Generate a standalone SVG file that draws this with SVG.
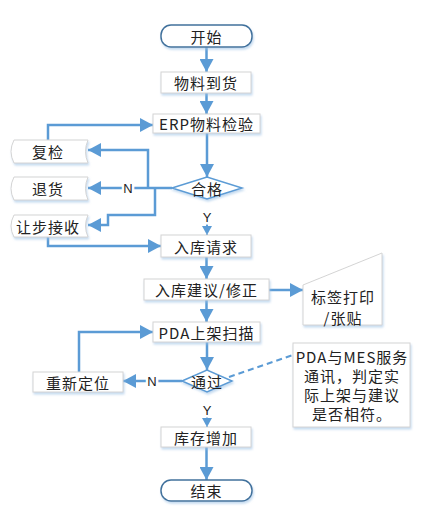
<svg xmlns="http://www.w3.org/2000/svg" width="422" height="516" viewBox="0 0 422 516">
<defs>
<style>
.box{fill:#fff;stroke:#d4d4d4;stroke-width:1;filter:url(#sh)}
.term{fill:#fff;stroke:#41719c;stroke-width:1.5;filter:url(#sh)}
.dia{fill:#fff;stroke:#5b9bd5;stroke-width:1.5;filter:url(#sh)}
.t{font-family:"Noto Sans CJK SC","Liberation Sans",sans-serif;font-size:15px;fill:#222;text-anchor:middle;dominant-baseline:central;letter-spacing:1px}
.lbl{font-family:"Liberation Sans",sans-serif;font-size:13px;fill:#222;text-anchor:middle;dominant-baseline:central;paint-order:stroke;stroke:#fff;stroke-width:5px}
.c{fill:none;stroke:#5b9bd5;stroke-width:2.5}
.a{marker-end:url(#ah)}
.d{fill:none;stroke:#5b9bd5;stroke-width:2;stroke-dasharray:6 4}
</style>
<filter id="sh" x="-10%" y="-20%" width="120%" height="150%">
<feDropShadow dx="1" dy="2" stdDeviation="1.2" flood-color="#9dc3e6" flood-opacity="0.6"/>
</filter>
<marker id="ah" markerUnits="userSpaceOnUse" markerWidth="14" markerHeight="14" viewBox="0 0 14 14" refX="13" refY="7" orient="auto">
<path d="M0,0 L13,7 L0,14 Z" fill="#5b9bd5"/>
</marker>
<marker id="ahs" markerUnits="userSpaceOnUse" markerWidth="10" markerHeight="10" viewBox="0 0 10 10" refX="9" refY="5" orient="auto">
<path d="M0,0 L9,5 L0,10 Z" fill="#5b9bd5"/>
</marker>
</defs>

<g id="connectors">
<path class="c a" d="M206.5,47 V72"/>
<path class="c a" d="M206.5,93 V114"/>
<path class="c a" d="M207,133 V177"/>
<path class="c a" d="M172,188 H88"/>
<path class="c a" d="M148,188 V150 H88"/>
<path class="c a" d="M155,188 V215 H108 V225 H88"/>
<path class="c a" d="M48,140 V125 H153"/>
<path class="c a" d="M48,237 V246 H161"/>
<path class="d" d="M207,224 V235" marker-end="url(#ahs)"/>
<path class="c a" d="M206.5,257 V279"/>
<path class="c a" d="M269,290 H303"/>
<path class="c a" d="M206.5,300 V322"/>
<path class="c a" d="M79,372 V332 H153"/>
<path class="c a" d="M207,342 V370"/>
<path class="c a" d="M182,381 H123"/>
<path class="d" d="M229,377 L293,355"/>
<path class="d" d="M207,416 V427" marker-end="url(#ahs)"/>
<path class="c a" d="M206.5,447 V480"/>
<text class="lbl" x="128" y="188">N</text>
<text class="lbl" x="207" y="217">Y</text>
<text class="lbl" x="152" y="381">N</text>
<text class="lbl" x="207" y="410">Y</text>
</g>

<g id="start"><rect class="term" x="161" y="25" width="91" height="22" rx="10"/><text class="t" x="206.5" y="36">开始</text></g>
<g id="arrival"><rect class="box" x="161" y="72" width="90" height="21"/><text class="t" x="206" y="82.5">物料到货</text></g>
<g id="erp"><rect class="box" x="153" y="114" width="107" height="19"/><text class="t" x="206.5" y="123.5">ERP物料检验</text></g>
<g id="recheck"><path class="box" d="M14,140 H88 Q83,151.5 88,163 H14 Q8,151.5 14,140 Z"/><text class="t" x="48" y="151.5">复检</text></g>
<g id="return"><path class="box" d="M14,177 H88 Q83,188.5 88,200 H14 Q8,188.5 14,177 Z"/><text class="t" x="48" y="188.5">退货</text></g>
<g id="concession"><path class="box" d="M14,215 H88 Q83,226 88,237 H14 Q8,226 14,215 Z"/><text class="t" x="48" y="226">让步接收</text></g>
<g id="qualified"><path class="dia" d="M172,188 L207,177 L242,188 L207,199 Z"/><text class="t" x="207" y="188">合格</text></g>
<g id="request"><rect class="box" x="161" y="235" width="90" height="22"/><text class="t" x="206" y="246">入库请求</text></g>
<g id="suggest"><rect class="box" x="144" y="279" width="125" height="21"/><text class="t" x="206.5" y="289.5">入库建议/修正</text></g>
<g id="label"><path class="box" d="M303,285 L382,253 V325 H303 Z"/><text class="t" x="343" y="296">标签打印</text><text class="t" x="343" y="317">/张贴</text></g>
<g id="scan"><rect class="box" x="153" y="322" width="107" height="20"/><text class="t" x="206.5" y="332">PDA上架扫描</text></g>
<g id="pass"><path class="dia" d="M182,381 L207,370 L232,381 L207,392 Z"/><text class="t" x="207" y="381">通过</text></g>
<g id="relocate"><rect class="box" x="33" y="372" width="90" height="20"/><text class="t" x="78" y="382">重新定位</text></g>
<g id="note"><rect class="box" x="293" y="343" width="117" height="84"/>
<text class="t" x="352" y="356">PDA与MES服务</text><text class="t" x="352" y="375">通讯，判定实</text><text class="t" x="352" y="394">际上架与建议</text><text class="t" x="352" y="413">是否相符。</text></g>
<g id="stock"><rect class="box" x="161" y="427" width="90" height="20"/><text class="t" x="206" y="437">库存增加</text></g>
<g id="end"><rect class="term" x="161" y="480" width="91" height="21" rx="10"/><text class="t" x="206.5" y="490.5">结束</text></g>
</svg>
